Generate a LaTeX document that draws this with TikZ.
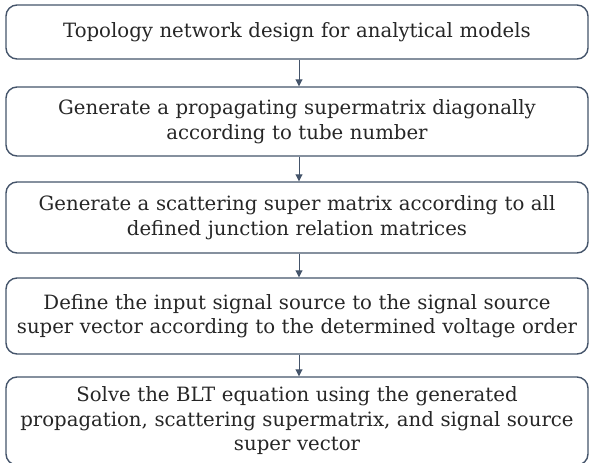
\documentclass[tikz,border=0pt]{standalone}
\usepackage{fontspec}
\setmainfont{DejaVu Serif}
\usetikzlibrary{arrows.meta}
\definecolor{edge}{HTML}{44546A}
\definecolor{ink}{HTML}{262626}
\tikzset{
  stepbox/.style={draw=edge, line width=1.4pt, rounded corners=11pt,
    minimum width=582pt, text width=576pt, inner xsep=3pt, inner ysep=0pt,
    align=center, text=ink, font=\fontsize{19.7pt}{24.5pt}\selectfont},
  link/.style={draw=edge, line width=0.9pt, -{Triangle[width=7pt,length=7pt]}}
}
\begin{document}
\begin{tikzpicture}[x=1pt,y=1pt]
\useasboundingbox (0,0) rectangle (589,-463);
\clip (0,0) rectangle (589,-463);
\node[stepbox, minimum height=54pt] (b1) at (297,-32) {Topology network design for analytical models};
\node[stepbox, minimum height=69pt] (b2) at (297,-121.5) {Generate a propagating supermatrix diagonally\\according to tube number};
\node[stepbox, minimum height=71pt] (b3) at (297,-217.5) {Generate a scattering super matrix according to all\\defined junction relation matrices};
\node[stepbox, minimum height=76pt] (b4) at (297,-316) {Define the input signal source to the signal source\\super vector according to the determined voltage order};
\node[stepbox, minimum height=88pt] (b5) at (297,-421) {Solve the BLT equation using the generated\\propagation, scattering supermatrix, and signal source\\super vector};
\draw[link] (b1.south -| 299,0) -- (b2.north -| 299,0);
\draw[link] (b2.south -| 299,0) -- (b3.north -| 299,0);
\draw[link] (b3.south -| 299,0) -- (b4.north -| 299,0);
\draw[link] (b4.south -| 299,0) -- (b5.north -| 299,0);
\end{tikzpicture}
\end{document}
